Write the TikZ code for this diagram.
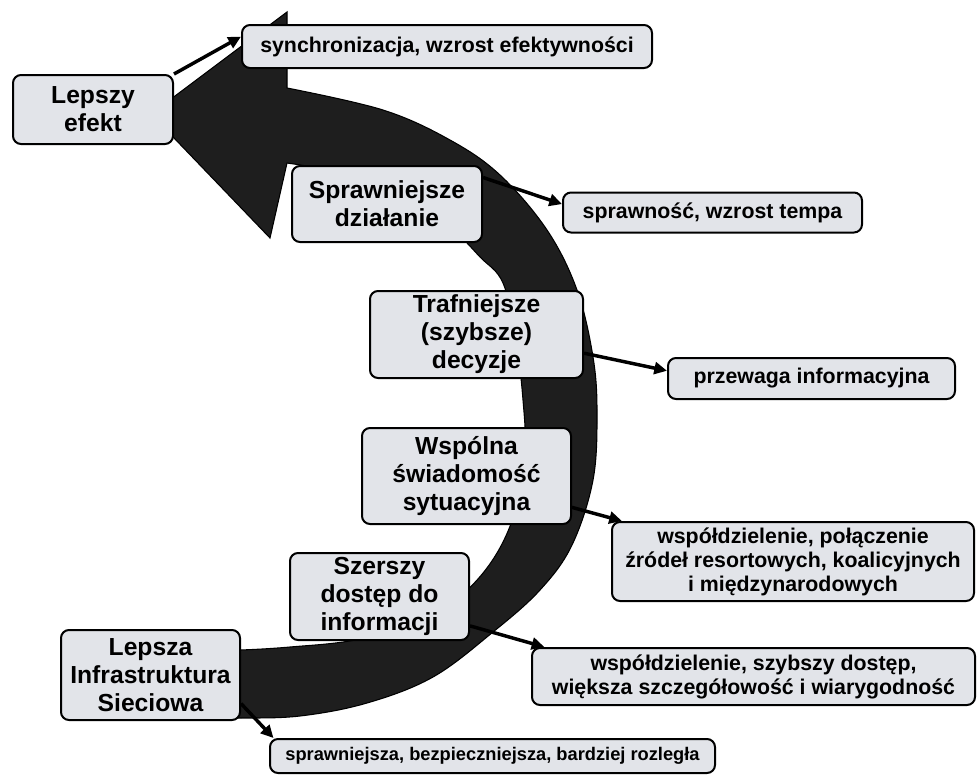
\documentclass[tikz,border=0pt]{standalone}
\usepackage{fontspec}
\setmainfont{Liberation Sans}
\usetikzlibrary{arrows.meta,calc,backgrounds}
\definecolor{boxfill}{RGB}{226,228,233}
\definecolor{bandfill}{RGB}{30,30,30}
\begin{document}
\begin{tikzpicture}[x=0.75pt,y=-0.75pt,
  sz/.style 2 args={minimum width=#1*0.75pt, minimum height=#2*0.75pt},
  stage/.style={draw=black, line width=1.5pt, rounded corners=6pt, fill=boxfill,
    align=center, inner sep=0pt, font=\fontsize{18.5}{21}\selectfont\bfseries},
  effect/.style={stage, font=\fontsize{16}{18}\selectfont\bfseries},
  link/.style={line width=2.6pt, -{Triangle[length=9.5pt,width=9pt]}}
]
\useasboundingbox (0,0) rectangle (977,775);

% stages along the curved arrow
\node[stage, sz={160}{69}] (better) at (93,109.5) {Lepszy\\efekt};
\node[stage, sz={190}{76}] (action) at (387,204) {Sprawniejsze\\działanie};
\node[stage, sz={213}{87}] (decision) at (476.5,334.5) {Trafniejsze\\(szybsze)\\decyzje};
\node[stage, sz={209}{96}] (aware) at (466.5,476) {Wspólna\\świadomość\\sytuacyjna};
\node[stage, sz={179}{87}] (access) at (379.5,596.5) {Szerszy\\dostęp do\\informacji};
\node[stage, sz={179}{90}] (infra) at (150.5,675) {Lepsza\\Infrastruktura\\Sieciowa};

% effects of each stage
\node[effect, sz={410}{43}] (sync) at (447,46.5) {synchronizacja, wzrost efektywności};
\node[effect, sz={299}{40}] (tempo) at (712.5,212.5) {sprawność, wzrost tempa};
\node[effect, sz={287}{41}] (infoadv) at (811.5,378.5) {przewaga informacyjna};
\node[effect, sz={362}{79}] (share) at (793,561.5) {współdzielenie, połączenie\\źródeł resortowych, koalicyjnych\\i międzynarodowych};
\node[effect, sz={443}{57}] (detail) at (753.5,676.5) {współdzielenie, szybszy dostęp,\\większa szczegółowość i wiarygodność};
\node[effect, sz={445}{34}, font=\fontsize{13.7}{16}\selectfont\bfseries] (network) at (492.5,756) {sprawniejsza, bezpieczniejsza, bardziej rozległa};

\begin{scope}[on background layer]
  % the big curved arrow
  \fill[bandfill, draw=black, line width=0.8pt]
    (287,88) -- (287,12) -- (151,114) -- (270,238) -- (287,163)
    -- plot[smooth, tension=0.6] coordinates {(287,163) (350,175) (410,200) (453,230)
       (480,257) (503,283) (516,340) (523,400) (525,450) (517,505) (497,553)
       (465,592) (420,622) (355,640) (290,647) (240,650) (205,650)}
    -- (205,717)
    -- plot[smooth, tension=0.6] coordinates {(205,717) (240,718) (300,716) (367,703)
       (433,677) (493,632) (540,590) (572,545) (593,480) (597,413) (593,357)
       (577,290) (547,230) (500,175) (450,140) (383,110) (287,88)}
    -- cycle;

  % connectors from stages to effects
  \draw[link] (better.north east) -- ($(sync.north west)!0.28!(sync.south west)$);
  \draw[link] ($(action.north east)!0.16!(action.south east)$) -- ($(tempo.north west)!0.3!(tempo.south west)$);
  \draw[link] ($(decision.north east)!0.71!(decision.south east)$) -- ($(infoadv.north west)!0.32!(infoadv.south west)$);
  \draw[link] ($(aware.north east)!0.82!(aware.south east)$) -- ($(share.north west)!0.03!(share.north east)$);
  \draw[link] ($(access.north east)!0.83!(access.south east)$) -- ($(detail.north west)!0.03!(detail.north east)$);
  \draw[link] ($(infra.north east)!0.81!(infra.south east)$) -- ($(network.north west)!0.01!(network.north east)$);
\end{scope}
\end{tikzpicture}
\end{document}
